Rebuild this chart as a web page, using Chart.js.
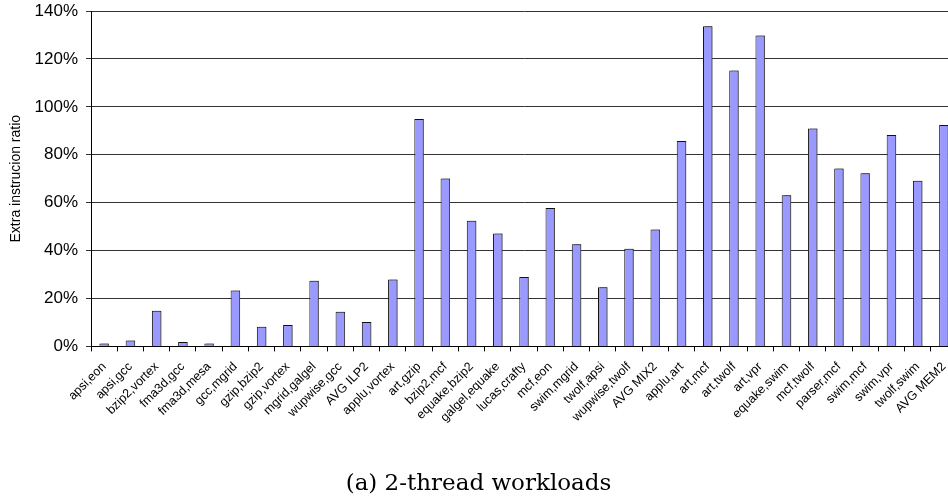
<!DOCTYPE html>
<html>
<head>
<meta charset="utf-8">
<script src="https://cdn.jsdelivr.net/npm/chart.js@4"></script>
<style>
  html, body { margin: 0; padding: 0; background: #fff; overflow: hidden; }
  #wrap { position: relative; width: 957px; height: 501px; }
</style>
</head>
<body>
<div id="wrap"><canvas id="container"></canvas></div>
<script>
var workloads = ["apsi,eon", "apsi,gcc", "bzip2,vortex", "fma3d,gcc", "fma3d,mesa", "gcc,mgrid",
  "gzip,bzip2", "gzip,vortex", "mgrid,galgel", "wupwise,gcc", "AVG ILP2", "applu,vortex",
  "art,gzip", "bzip2,mcf", "equake,bzip2", "galgel,equake", "lucas,crafty", "mcf,eon",
  "swim,mgrid", "twolf,apsi", "wupwise,twolf", "AVG MIX2", "applu,art", "art,mcf",
  "art,twolf", "art,vpr", "equake,swim", "mcf,twolf", "parser,mcf", "swim,mcf",
  "swim,vpr", "twolf,swim", "AVG MEM2"];
var extraRatio = [1.2, 2.5, 14.9, 1.8, 1.2, 23.3,
  8.2, 8.9, 27.4, 14.5, 10.2, 27.9,
  94.9, 70.1, 52.5, 47.1, 29.0, 57.8,
  42.6, 24.7, 40.8, 48.8, 85.7, 133.6,
  115.2, 129.8, 63.1, 91.0, 74.3, 72.3,
  88.2, 69.1, 92.4];
var yTicks = [0, 20, 40, 60, 80, 100, 120, 140];

// grey drop shadow to the right of each bar
var barShadow = {
  id: 'barShadow',
  beforeDatasetsDraw: function (chart) {
    var ctx = chart.ctx;
    ctx.save();
    ctx.shadowColor = 'rgba(90,90,90,0.8)';
    ctx.shadowOffsetX = 2;
    ctx.shadowOffsetY = 0;
    ctx.shadowBlur = 0;
  },
  afterDatasetsDraw: function (chart) {
    chart.ctx.restore();
  }
};

new Chart("container", {
  type: 'bar',
  data: {
    labels: workloads,
    datasets: [{
      data: extraRatio,
      backgroundColor: '#9999ff',
      borderColor: '#111',
      borderWidth: 1,
      barPercentage: 0.36,
      categoryPercentage: 1
    }]
  },
  plugins: [barShadow],
  options: {
    responsive: true,
    maintainAspectRatio: false,
    animation: false,
    layout: { padding: { top: 11, right: 0, left: 0, bottom: 0 } },
    plugins: {
      legend: { display: false },
      tooltip: { enabled: false },
      title: {
        display: true,
        position: 'bottom',
        text: '(a) 2-thread workloads',
        color: '#000',
        font: { family: 'DejaVu Serif', size: 23, weight: 'normal' },
        padding: { top: 17, bottom: 3 }
      }
    },
    scales: {
      x: {
        offset: true,
        grid: { display: true, drawOnChartArea: false, drawTicks: true, tickLength: 5, color: '#000', offset: true },
        border: { display: true, color: '#000', width: 1 },
        ticks: {
          color: '#000',
          autoSkip: false,
          maxRotation: 45,
          minRotation: 45,
          padding: 8,
          font: { family: 'Liberation Sans', size: 12.5 }
        },
        afterFit: function (s) { s.height = 107; s.paddingLeft = 0; s.paddingRight = 0; }
      },
      y: {
        min: 0,
        max: 140,
        afterBuildTicks: function (s) { s.ticks = yTicks.map(function (v) { return { value: v }; }); },
        grid: { color: '#333', tickLength: 5, lineWidth: 1 },
        border: { display: true, color: '#000', width: 1 },
        ticks: {
          color: '#000',
          padding: 8,
          font: { family: 'Liberation Sans', size: 17 },
          callback: function (v) { return v + '%'; }
        },
        title: {
          display: true,
          text: 'Extra instrucion ratio',
          color: '#000',
          font: { family: 'Liberation Sans', size: 14 },
          padding: { top: 8, bottom: 0 }
        },
        afterFit: function (s) { s.width = 91; s.paddingTop = 0; s.paddingBottom = 0; }
      }
    }
  }
});
</script>
</body>
</html>
